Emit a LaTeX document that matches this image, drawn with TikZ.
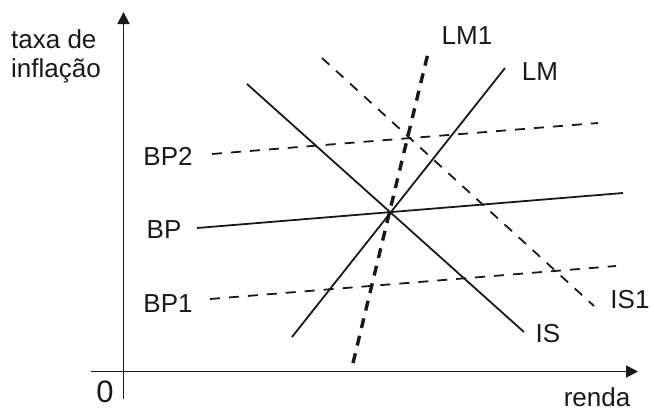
\documentclass[tikz,border=0pt]{standalone}
\usepackage{fontspec}
\setmainfont{Liberation Sans}
\usetikzlibrary{arrows.meta}
\begin{document}
\begin{tikzpicture}[x=1pt,y=-1pt,
  lbl/.style={font=\fontsize{26}{29}\selectfont, inner sep=0pt, text=black!90},
  axis/.style={line width=1.8pt, black!90, -{Triangle[length=12pt,width=12pt]}},
  solidln/.style={line width=1.8pt, black!90},
  dashln/.style={line width=1.8pt, black!90, dash pattern=on 10pt off 9pt},
  thickdash/.style={line width=3.4pt, black!90, dash pattern=on 10pt off 8pt}]
\useasboundingbox (0,0) rectangle (651,410);
% axes
\coordinate (yb) at (123.5,399);
\coordinate (yt) at (123.5,12);
\coordinate (xl) at (91,371.5);
\coordinate (xr) at (638,371.5);
\draw[axis] (yb) -- (yt);
\draw[axis] (xl) -- (xr);
\node[lbl, font=\fontsize{31}{34}\selectfont] (zero) at (105,391.5) {0};
\node[lbl, anchor=base] (renda) at (597,406) {renda};
\node[lbl, anchor=west, align=left] (ylab) at (11,56) {taxa de\\inflação};
% curves
\coordinate (isa) at (247,84);   \coordinate (isb) at (524,332);
\coordinate (lma) at (292,337);  \coordinate (lmb) at (505,68);
\coordinate (lm1a) at (353,363); \coordinate (lm1b) at (429,49);
\coordinate (is1a) at (322,58);  \coordinate (is1b) at (594,306);
\coordinate (bp2a) at (212,154); \coordinate (bp2b) at (598,123);
\coordinate (bpa) at (197,228);  \coordinate (bpb) at (623,193);
\coordinate (bp1a) at (210,299); \coordinate (bp1b) at (616,266);
\draw[solidln] (isa) -- (isb);
\draw[solidln] (lma) -- (lmb);
\draw[solidln] (bpa) -- (bpb);
\draw[dashln] (is1a) -- (is1b);
\draw[dashln] (bp2a) -- (bp2b);
\draw[dashln] (bp1a) -- (bp1b);
\draw[thickdash] (lm1a) -- (lm1b);
% labels
\node[lbl] (lIS) at (548,334) {IS};
\node[lbl] (lLM) at (540,72) {LM};
\node[lbl] (lLM1) at (467,36) {LM1};
\node[lbl] (lIS1) at (630,300) {IS1};
\node[lbl] (lBP2) at (168,156) {BP2};
\node[lbl] (lBP) at (164,230) {BP};
\node[lbl] (lBP1) at (168,304) {BP1};
\end{tikzpicture}
\end{document}
